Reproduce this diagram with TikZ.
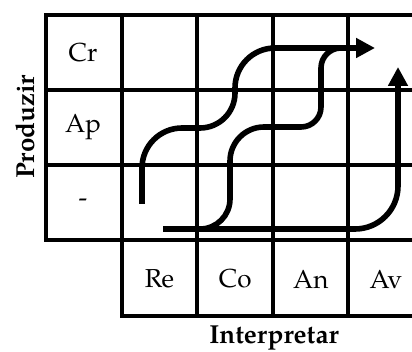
\documentclass[tikz,border=0pt]{standalone}
\usepackage{fontspec}
\setmainfont{TeX Gyre Pagella}
\usetikzlibrary{arrows.meta}
\begin{document}
\begin{tikzpicture}[x=0.5pt,y=-0.5pt,
  grid/.style={line width=1.9pt,line cap=rect},
  cell/.style={font=\fontsize{13pt}{15pt}\selectfont,inner sep=0pt},
  axis/.style={font=\fontsize{13pt}{15pt}\selectfont\bfseries,inner sep=0pt},
  flow/.style={line width=2.8pt,-{Triangle[length=9.5pt,width=9.5pt]}},
  flowplain/.style={line width=2.8pt}]
\useasboundingbox (0,0) rectangle (412,352);
% grid
\draw[grid] (45.7,15) -- (412,15);
\draw[grid] (45.7,90) -- (412,90);
\draw[grid] (45.7,165) -- (412,165);
\draw[grid] (45.7,240) -- (412,240);
\draw[grid] (121.7,316) -- (412,316);
\draw[grid] (45.7,15) -- (45.7,240);
\foreach \x in {121.7,197.3,273.3,348.3} \draw[grid] (\x,15) -- (\x,316);
% labels
\node[cell] (cr) at (83,52.5) {Cr};
\node[cell] (ap) at (83,127.5) {Ap};
\node[cell] (nn) at (83,203) {-};
\node[cell] (re) at (159.5,279) {Re};
\node[cell] (co) at (235.3,279) {Co};
\node[cell] (an) at (310.8,279) {An};
\node[cell] (av) at (386,279) {Av};
\node[axis,rotate=90] (prod) at (25,127) {Produzir};
\node[axis] (interp) at (274,338) {Interpretar};
% key points
\coordinate (a0) at (142,204);
\coordinate (a1) at (142,128);
\coordinate (a2) at (235,128);
\coordinate (a3) at (235,48);
\coordinate (a4) at (375,48);
\coordinate (b0) at (163,229);
\coordinate (b1) at (230,229);
\coordinate (b2) at (230,127);
\coordinate (b3) at (321,127);
\coordinate (b4) at (321,48);
\coordinate (b5) at (345,48);
\coordinate (c1) at (398,229);
\coordinate (c2) at (398,67);
% flows
\draw[flowplain] (b0) [rounded corners=15pt] -- (b1) [rounded corners=17pt] -- (b2) [rounded corners=10pt] -- (b3) [rounded corners=10pt] -- (b4) -- (b5);
\draw[flow] (a0) [rounded corners=20pt] -- (a1) [rounded corners=17.5pt] -- (a2) [rounded corners=20pt] -- (a3) -- (a4);
\draw[flow] (b0) [rounded corners=21.5pt] -- (c1) -- (c2);
\end{tikzpicture}
\end{document}
